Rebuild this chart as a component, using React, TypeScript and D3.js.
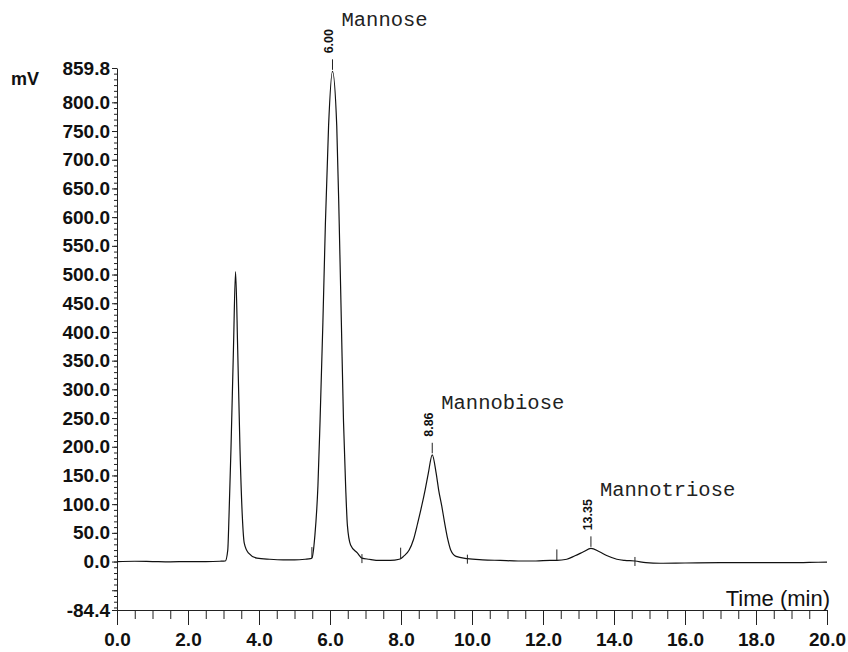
import React, { useEffect, useRef } from "react";
import * as d3 from "d3";

// trace (time in min, signal in mV)
const times = [
  0, 0.5, 1.0, 1.5, 2.0, 2.5, 2.9, 3.05,
  3.12, 3.155, 3.21, 3.28, 3.34, 3.4, 3.465, 3.53, 3.585, 3.7, 3.94, 4.3, 4.68, 5.0, 5.3, 5.45,
  5.49, 5.575, 5.66, 5.72, 5.8, 5.87, 5.96, 6.07, 6.19, 6.26, 6.32, 6.38, 6.44, 6.49, 6.58, 6.77, 6.9,
  7.1, 7.4, 7.7, 7.95,
  7.99, 8.07, 8.23, 8.35, 8.47, 8.58, 8.68, 8.77, 8.88, 8.99, 9.06, 9.15, 9.23, 9.32, 9.4, 9.55, 9.87,
  10.3, 10.8, 11.3, 11.8, 12.2, 12.39,
  12.67, 12.9, 13.14, 13.35, 13.59, 13.81, 14.08, 14.3, 14.59,
  14.9, 15.3, 16, 17, 18, 19, 19.5, 20,
];
const signal = [
  0, 0.5, 0, -0.5, 0, 0, 0.5, 1,
  20, 79, 195, 369, 505, 369, 195, 79, 32, 15, 6, 4, 3, 3, 4, 5,
  6, 46, 132, 245, 417, 588, 759, 854, 759, 588, 417, 245, 132, 63, 29, 15, 6,
  4, 2, 2, 4,
  5, 9, 20, 38, 67, 96, 125, 154, 186, 154, 125, 96, 67, 38, 20, 9, 5,
  3, 2, 1, 1, 2, 2,
  4, 10, 17, 23, 17, 10, 4, 2, 1,
  -2, -3, -2.5, -2, -2, -2, -1.5, -1,
];

const peakTimes = [6.07, 8.88, 13.35];
const peakHeights = [854, 186, 23];
const peakRT = ["6.00", "8.86", "13.35"];
const peakNames = ["Mannose", "Mannobiose", "Mannotriose"];

const markTimes = [5.49, 6.9, 7.99, 9.87, 12.39, 14.59];
const markValues = [6, 6, 5, 5, 2, 1];
const markKinds = ["start", "end", "start", "end", "start", "end"];

const yLabelTicks = [-84.4, 0, 50, 100, 150, 200, 250, 300, 350, 400, 450, 500, 550, 600, 650, 700, 750, 800, 859.8];
const yMajorNoLabel = [-50];
const xLabelTicks = [0, 2, 4, 6, 8, 10, 12, 14, 16, 18, 20];

export default function App() {
  const ref = useRef<SVGSVGElement>(null);
  const W = 848;
  const H = 652;

  useEffect(() => {
    const svg = d3.select(ref.current);
    svg.selectAll("*").remove();

    const x = d3.scaleLinear().domain([0, 20]).range([117, 827]);
    const y = d3.scaleLinear().domain([-84.4, 859.8]).range([610, 68]);

    const boldFont = "'Liberation Sans', Arial, sans-serif";
    const fmt = (d: d3.NumberValue) => (+d).toFixed(1); // plain hyphen for negatives

    // y axis: minor ticks every 10
    const yMinor = d3.range(-80, 860, 10);
    svg.append("g")
      .attr("transform", "translate(117,0)")
      .call(d3.axisLeft(y).tickValues(yMinor).tickSize(3).tickFormat(() => ""))
      .call(g => g.select(".domain").remove());
    svg.append("g")
      .attr("transform", "translate(117,0)")
      .call(d3.axisLeft(y).tickValues(yMajorNoLabel).tickSize(5).tickFormat(() => ""))
      .call(g => g.select(".domain").remove());
    const yAx = svg.append("g")
      .attr("transform", "translate(117,0)")
      .call(d3.axisLeft(y).tickValues(yLabelTicks).tickSize(5).tickSizeOuter(0).tickPadding(2).tickFormat(fmt));
    yAx.selectAll("text")
      .attr("font-family", boldFont)
      .attr("font-weight", "bold")
      .attr("font-size", 19)
      .attr("fill", "#111");

    // x axis
    const xMinor = d3.range(0, 20.01, 0.5);
    svg.append("g")
      .attr("transform", "translate(0,610)")
      .call(d3.axisBottom(x).tickValues(xMinor).tickSize(9).tickFormat(() => ""))
      .call(g => g.select(".domain").remove());
    const xAx = svg.append("g")
      .attr("transform", "translate(0,610)")
      .call(d3.axisBottom(x).tickValues(xLabelTicks).tickSize(15).tickSizeOuter(0).tickPadding(8).tickFormat(fmt));
    xAx.selectAll("text")
      .attr("font-family", boldFont)
      .attr("font-weight", "bold")
      .attr("font-size", 19)
      .attr("fill", "#111");

    svg.selectAll(".tick line").attr("stroke", "#222");
    svg.selectAll(".domain").attr("stroke", "#222");

    // axis titles
    svg.append("text")
      .attr("x", 11)
      .attr("y", 85)
      .attr("font-family", boldFont)
      .attr("font-weight", "bold")
      .attr("font-size", 18)
      .attr("fill", "#111")
      .text("mV");
    svg.append("text")
      .attr("x", 830)
      .attr("y", 606)
      .attr("text-anchor", "end")
      .attr("font-family", "'Liberation Sans', Arial, sans-serif")
      .attr("font-size", 22)
      .attr("fill", "#111")
      .text("Time (min)");

    // trace
    const pts: [number, number][] = times.map((t, i) => [t, signal[i]]);
    const line = d3.line<[number, number]>()
      .x(d => x(d[0]))
      .y(d => y(d[1]))
      .curve(d3.curveMonotoneX);
    svg.append("path")
      .datum(pts)
      .attr("d", line)
      .attr("fill", "none")
      .attr("stroke", "#111")
      .attr("stroke-width", 1.2);

    // integration marks
    markTimes.forEach((t, i) => {
      const mx = x(t);
      const my = y(markValues[i]);
      svg.append("line")
        .attr("x1", mx).attr("x2", mx)
        .attr("y1", markKinds[i] === "start" ? my - 11 : my - 4)
        .attr("y2", markKinds[i] === "start" ? my : my + 5)
        .attr("stroke", "#222")
        .attr("stroke-width", 1);
    });

    // peak annotations
    peakTimes.forEach((t, i) => {
      const px = x(t);
      const py = y(peakHeights[i]);
      const numLen = (peakRT[i].length - 1) * 6.67 + 3.33;
      svg.append("line")
        .attr("x1", px).attr("x2", px)
        .attr("y1", py - 12).attr("y2", py - 1.5)
        .attr("stroke", "#222")
        .attr("stroke-width", 1);
      svg.append("text")
        .attr("transform", `translate(${px + 1},${py - 18}) rotate(-90)`)
        .attr("font-family", "'Liberation Sans', Arial, sans-serif")
        .attr("font-size", 12.5)
        .attr("font-weight", 600)
        .attr("fill", "#111")
        .text(peakRT[i]);
      svg.append("text")
        .attr("x", px + 9)
        .attr("y", py - 18 - numLen - 4)
        .attr("font-family", "'Liberation Mono', 'Courier New', monospace")
        .attr("font-size", 20.5)
        .attr("fill", "#222")
        .text(peakNames[i]);
    });
  }, []);

  return (
    <svg
      ref={ref}
      width={W}
      height={H}
      style={{ position: "absolute", left: 0, top: 0, background: "#fff" }}
    />
  );
}
